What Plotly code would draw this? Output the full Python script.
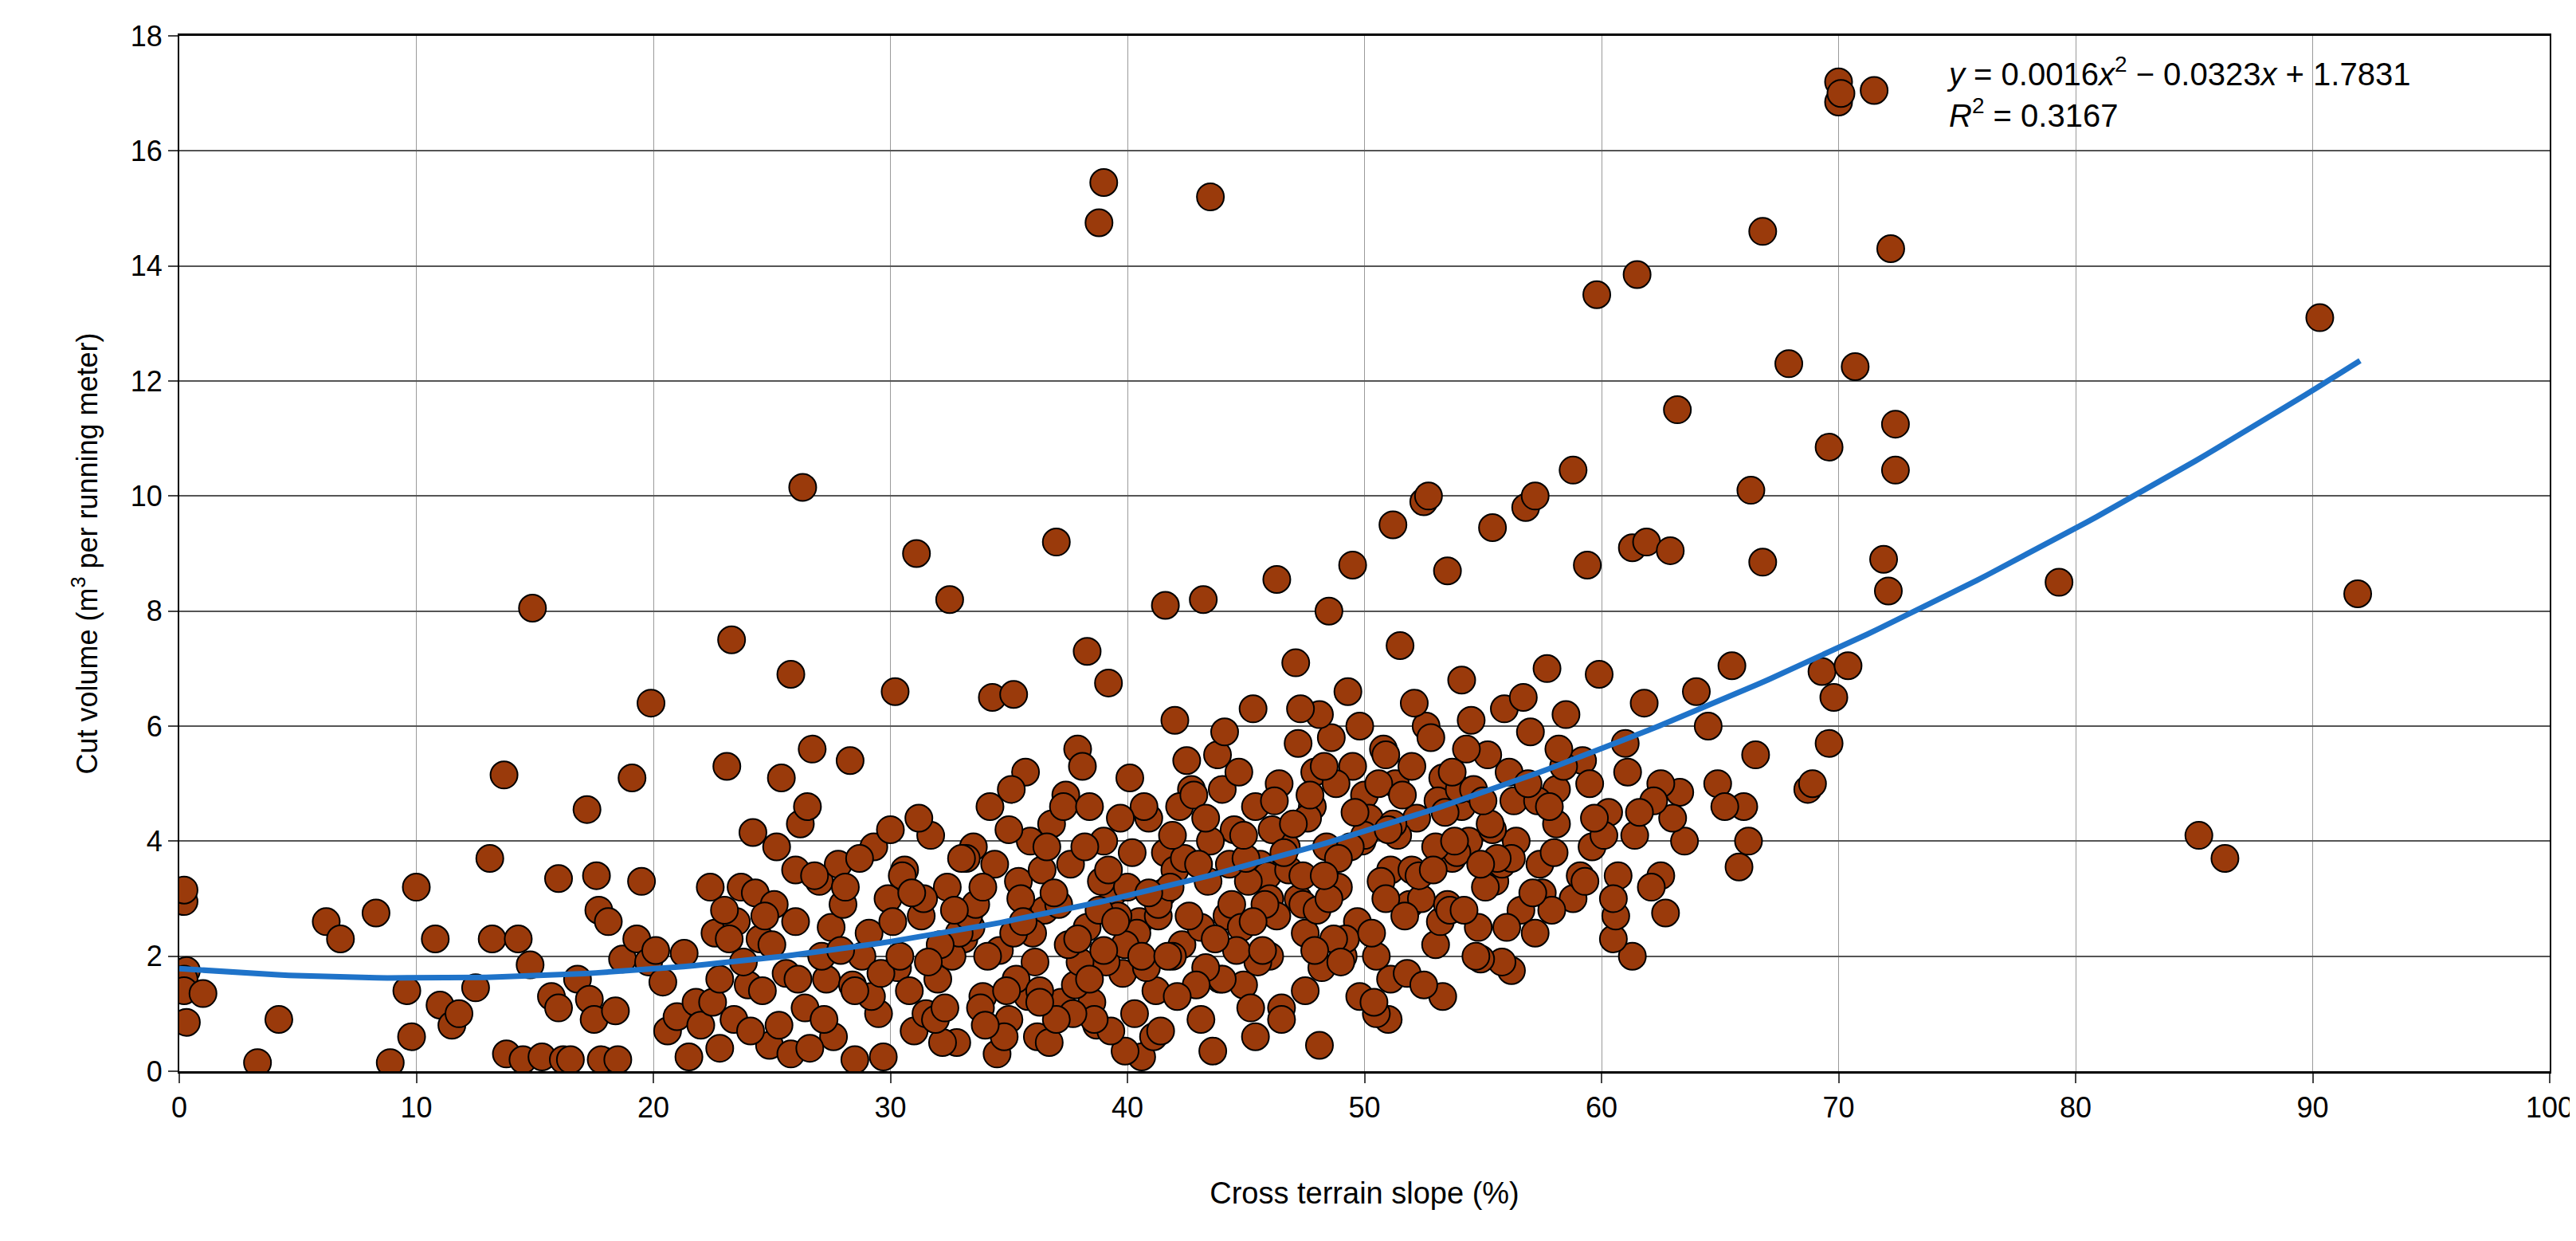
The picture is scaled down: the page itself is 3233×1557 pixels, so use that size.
import plotly.graph_objects as go
import numpy as np

# Sparse / outlying observations (slope %, cut volume m3/m)
outlier_x = [0.2,0.2,0.3,0.2,0.2,0.3,1.0,3.3,4.2,6.2,6.8,8.3,8.9,9.6,9.8,10.0,10.8,11.0,11.5,11.8,12.5,13.1,13.2,13.7,13.8,14.3,14.5,14.8,14.9,15.3,15.7,16.0,16.0,16.2,16.5,16.8,17.2,17.3,17.5,17.6,17.7,17.8,18.1,18.4,18.5,18.7,19.1,19.3,19.5,19.8,19.9,20.1,20.4,20.6,21.0,21.3,21.5,21.8,22.0,22.4,22.6,22.8,23.1,23.3,23.5,23.7,24.0,24.2,24.5,24.9,25.2,25.4,25.8,25.8,26.0,26.2,26.3,26.5,26.7,27.0,27.3,27.5,27.8,28.3,28.5,28.8,29.3,29.7,30.0,30.2,31.1,32.5,34.3,35.2,37.0,38.3,38.8,39.0,39.2,43.5,41.6,43.2,46.3,48.5,49.5,51.2,52.5,52.7,53.5,55.4,56.8,57.2,58.8,59.4,59.8,61.5,61.3,61.9,62.9,63.2,66.3,66.8,66.8,67.9,69.6,70.0,70.0,70.1,71.5,70.7,72.2,72.4,72.4,71.9,72.1,69.3,69.6,69.8,70.4,68.7,68.9,79.3,85.2,86.3,90.3,91.9,65.5,65.8,66.0,66.2,66.5,64.9,65.2,64.5,64.0,63.3,63.5,62.5,62.7,61.3,60.5,60.6,56.2,55.8,54.9,53.3,51.0,50.5,49.8,48.1,47.5,46.5,45.4,43.6,40.6,39.9]
outlier_y = [2.95,3.15,1.75,1.6,1.4,0.85,1.35,0.15,0.9,2.6,2.3,2.75,0.15,1.4,0.6,3.2,2.3,1.15,0.8,1.0,1.45,3.7,2.3,5.15,0.3,2.3,0.2,1.85,8.05,0.25,1.3,3.35,1.1,0.2,0.2,1.6,4.55,1.25,0.9,3.4,2.8,0.2,2.6,1.05,0.2,1.95,5.1,2.3,3.3,1.9,6.4,2.1,1.55,0.7,0.95,2.05,0.25,1.2,0.8,3.2,2.4,0.4,5.3,7.5,2.6,3.2,1.5,4.15,2.3,0.45,3.9,5.1,0.3,6.9,3.5,4.3,10.15,4.6,5.6,3.3,1.6,2.5,3.6,5.4,0.2,2.0,3.9,0.25,4.2,6.6,9.0,8.2,6.5,6.55,9.2,7.3,14.75,15.45,6.75,15.2,8.1,8.2,8.55,8.0,8.8,9.5,9.9,10.0,8.7,9.45,9.8,10.0,10.45,8.8,13.5,13.85,9.1,9.2,9.05,11.5,10.1,8.85,14.6,12.3,10.85,17.2,16.85,17.0,17.05,12.25,14.3,11.25,10.45,8.9,8.35,6.95,5.7,6.5,7.05,4.9,5.0,8.5,4.1,3.7,13.1,8.3,7.05,3.55,4.6,4.0,5.5,5.0,4.6,6.0,6.6,4.85,4.0,3.4,2.75,2.0,2.3,2.7,1.75,1.9,1.95,1.3,0.9,1.0,1.3,0.45,1.4,1.1,0.6,0.35,0.25,0.35]

# Dense cloud observations
cloud_x = [22.5,23.0,23.4,23.8,24.3,24.6,25.0,25.3,25.6,26.0,26.4,26.8,27.1,27.6,28.0,28.4,28.7,29.1,29.5,29.9,
           30.3,30.6,31.0,31.3,31.7,32.0,32.4,32.8,33.1,33.5,33.9,34.2,34.6,35.0,35.4,35.7,36.1,36.5,36.8,37.2,
           37.6,37.9,38.3,38.7,39.0,39.4,39.8,40.1,40.5,40.9,41.2,41.6,42.0,42.3,42.7,43.1,43.4,43.8,44.2,44.5,
           44.9,45.3,45.6,46.0,46.4,46.7,47.1,47.5,47.8,48.2,48.6,48.9,49.3,49.7,50.0,50.4,50.8,51.1,51.5,51.9,
           52.2,52.6,53.0,53.3,53.7,54.1,54.4,54.8,55.2,55.5,55.9,56.3,56.6,57.0,57.4,57.7,58.1,58.5,58.8,59.2,
           59.6,59.9,60.3,60.7,61.0,61.4,61.8,62.1,62.5,63.0,
           23.2,24.1,25.1,26.1,27.2,28.1,29.2,30.1,31.2,32.2,33.2,34.1,35.1,36.2,37.1,38.1,39.1,40.2,41.1,42.2,
           43.1,44.1,45.2,46.1,47.2,48.1,49.1,50.2,51.1,52.1,53.2,54.1,55.1,56.1,57.2,58.1,59.1,60.1,61.1,62.2,
           22.8,24.7,26.6,28.5,30.5,32.6,34.5,36.4,38.5,40.4,42.5,44.4,46.5,48.4,50.5,52.4,54.5,56.4,58.4,60.5,
           27.9,29.6,31.5,33.4,35.5,37.4,39.6,41.4,43.5,45.5,47.4,49.5,51.4,53.5,55.4,57.5,59.5,61.6,
           31.9,33.8,35.8,37.8,39.9,41.9,43.9,45.9,47.9,49.9,51.8,53.9,55.8,57.9,
           34.8,36.7,38.9,40.8,42.8,44.8,46.8,48.8,50.7,52.8,54.7,56.7,
           30.8,32.9,35.3,37.3,39.3,41.3,43.3,45.1,47.3,49.2,51.3,53.1,
           36.0,38.0,40.0,42.0,44.0,46.0,48.0,50.0,52.0,54.0,
           33.0,35.9,38.6,41.5,44.6,47.6,50.6,53.6]
cloud_y = [1.2,2.8,0.9,1.9,3.1,1.4,2.2,0.8,1.7,2.6,1.1,3.4,2.0,0.6,2.9,1.5,3.7,2.4,1.0,3.0,
           1.8,3.5,0.7,2.7,4.1,1.6,3.2,0.5,2.3,3.9,1.3,4.6,2.1,0.9,3.3,5.2,1.9,2.8,4.3,1.2,
           3.6,5.6,2.5,0.8,4.0,3.1,1.7,5.1,2.6,4.4,1.4,3.8,6.1,2.2,4.9,0.9,3.3,5.5,2.7,4.2,
           1.5,6.3,3.6,2.0,5.0,3.9,7.1,2.4,4.6,1.8,5.8,3.2,6.6,2.6,4.8,1.2,5.6,3.5,7.4,2.9,
           4.4,6.0,2.2,5.1,3.7,6.8,4.0,2.5,5.5,3.3,6.3,4.7,2.8,5.9,3.6,7.0,4.3,6.2,3.0,5.4,
           3.9,6.9,4.5,3.4,5.7,4.1,6.4,3.2,5.0,4.4,
           2.3,0.7,2.9,1.6,0.9,3.2,1.3,2.6,4.4,0.5,3.7,2.0,4.9,0.6,2.9,5.3,1.9,3.8,0.6,4.6,
           2.5,5.9,1.1,4.2,3.0,6.2,2.0,4.4,1.6,6.4,2.6,4.6,3.2,5.2,2.4,4.9,3.4,4.1,5.2,4.7,
           1.6,2.7,0.4,1.4,3.4,2.0,0.3,3.5,1.2,2.4,5.4,2.9,0.9,3.9,2.0,3.0,6.1,4.0,5.3,3.0,
           2.1,1.7,1.0,2.5,3.0,4.8,2.7,0.7,4.0,1.9,2.9,5.3,4.1,2.9,4.2,3.1,5.0,4.5,
           0.9,1.1,1.3,1.5,2.2,2.0,1.6,3.4,5.2,4.0,1.7,3.8,3.6,2.8,
           0.6,0.5,3.3,1.8,4.8,2.5,3.5,5.0,3.3,5.8,2.0,6.5,
           1.4,2.4,1.6,4.6,0.7,2.7,4.4,3.3,6.3,2.3,5.0,4.7,
           2.4,1.9,3.2,3.5,1.6,3.0,2.8,4.1,3.5,4.9,
           3.7,4.0,0.9,3.1,2.1,4.4,5.0,2.8]

# Extra dense core observations (x 30-60)
core_x = [30.4,31.4,32.3,33.3,34.4,35.2,36.3,37.5,38.4,39.2,40.3,41.3,42.4,43.3,44.3,45.4,46.3,47.4,48.3,49.4,
          50.3,51.2,52.3,53.4,54.3,55.3,56.2,57.3,58.2,59.3,
          30.9,32.1,33.6,34.9,36.6,37.7,38.8,40.6,41.8,42.9,44.0,45.7,46.6,47.7,48.7,49.6,50.9,52.0,53.0,54.2,
          55.6,56.9,58.0,59.7,
          31.6,33.9,35.6,37.0,38.2,39.5,40.7,41.7,43.0,44.7,45.8,47.0,48.5,49.8,51.6,52.9,54.6,56.0,57.8,
          34.0,36.9,39.7,42.6,45.0,47.2,49.0,51.0,53.8,55.0,57.1,
          32.7,35.0,37.9,40.9,43.7,46.2,48.9,51.7,54.9,
          36.3,39.0,41.9,44.9,47.9,50.9,53.7,
          38.4,42.1,45.3,48.3,52.5]
core_y = [2.0,3.0,1.1,2.7,3.6,2.4,1.4,2.2,4.6,3.5,1.0,2.9,3.7,1.8,3.6,4.6,2.7,3.4,5.3,3.9,
          2.4,4.3,3.4,4.5,5.6,4.3,3.7,4.7,5.6,3.3,
          3.1,2.2,2.9,1.4,3.9,1.0,2.8,2.0,3.2,1.5,4.9,2.1,3.8,4.8,2.3,4.5,3.0,5.3,3.9,2.8,
          3.7,5.0,3.8,4.4,
          1.9,3.2,2.6,0.9,3.9,2.6,4.6,2.0,3.6,5.2,2.9,4.3,3.0,6.0,4.8,3.5,4.9,2.5,4.6,
          0.8,3.1,4.4,2.7,3.7,5.7,1.9,4.2,4.0,4.7,3.1,
          2.8,4.2,2.3,3.1,2.3,4.7,3.7,2.7,3.6,
          1.2,2.1,4.1,4.1,2.1,5.5,5.2,
          1.6,1.3,2.6,3.4,1.5]

slope = outlier_x + cloud_x + core_x
volume = outlier_y + cloud_y + core_y

# Quadratic trend reported on the chart
coef = [0.0016, -0.0323, 1.7831]
trend_x = np.linspace(0, 92, 200)
trend_y = np.polyval(coef, trend_x)

font_narrow = "Liberation Sans Narrow, Arial Narrow, sans-serif"

fig = go.Figure()
fig.add_trace(go.Scatter(x=slope, y=volume, mode="markers",
    marker=dict(size=34, color="#9A3A0B", line=dict(color="#000000", width=2)),
    showlegend=False))
fig.add_trace(go.Scatter(x=trend_x, y=trend_y, mode="lines",
    line=dict(color="#1F73C9", width=7), showlegend=False))

fig.update_layout(
    width=3233, height=1557,
    margin=dict(l=217, r=41, t=37, b=221),
    plot_bgcolor="white", paper_bgcolor="white",
    font=dict(family=font_narrow, size=36, color="#000"),
    xaxis=dict(range=[0, 100], dtick=10, showgrid=True, gridcolor="#9a9a9a", gridwidth=1,
               showline=True, linecolor="#000", linewidth=3, mirror=True,
               ticks="outside", ticklen=12, tickwidth=2, zeroline=False,
               title=dict(text="Cross terrain slope (%)", standoff=75, font=dict(size=38))),
    yaxis=dict(range=[0, 18], dtick=2, showgrid=True, gridcolor="#555", gridwidth=2,
               showline=True, linecolor="#000", linewidth=2, mirror=True,
               ticks="outside", ticklen=12, tickwidth=2, zeroline=False,
               title=dict(text="Cut volume (m<sup>3</sup> per running meter)", standoff=30,
                          font=dict(family="Liberation Sans, Arial, sans-serif", size=36))),
)
fig.add_annotation(x=74.5, y=17.75, xref="x", yref="y", xanchor="left", yanchor="top",
    align="left", showarrow=False, font=dict(size=40, family=font_narrow),
    text="<i>y</i> = 0.0016<i>x</i><sup>2</sup> − 0.0323<i>x</i> + 1.7831<br><i>R</i><sup>2</sup> = 0.3167")

fig.write_html("out.html")
